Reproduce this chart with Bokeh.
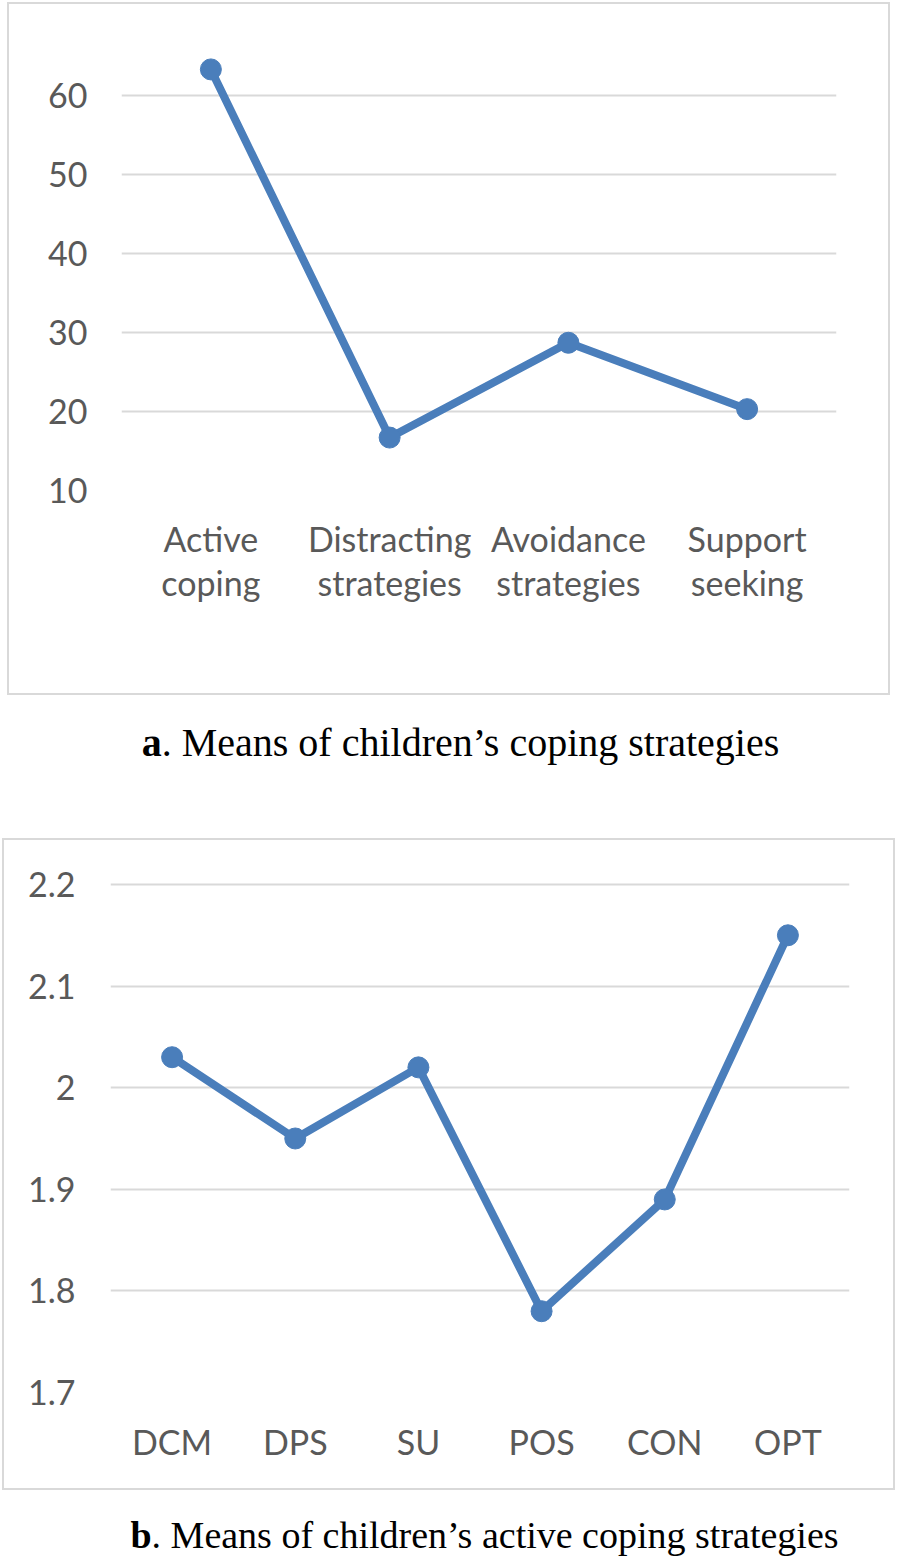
from bokeh.plotting import figure
from bokeh.models import FactorRange, Range1d, FixedTicker, Div, CustomJSTickFormatter
from bokeh.embed import file_html
from bokeh.resources import INLINE

# ---- data ----
cats_a = ["Active\ncoping", "Distracting\nstrategies", "Avoidance\nstrategies", "Support\nseeking"]
vals_a = [63.3, 16.7, 28.7, 20.3]
ticks_a = [10, 20, 30, 40, 50, 60]

cats_b = ["DCM", "DPS", "SU", "POS", "CON", "OPT"]
vals_b = [2.03, 1.95, 2.02, 1.78, 1.89, 2.15]
ticks_b = [1.7, 1.8, 1.9, 2.0, 2.1, 2.2]

caption_a = "<b>a</b>. Means of children’s coping strategies"
caption_b = "<b>b</b>. Means of children’s active coping strategies"

BLUE = "#4a7ebb"
GRID = "#d9d9d9"
LABEL = "#595959"
FONT = "Lato"


def frame_css(l, t, w, h, lw=2):
    g = "linear-gradient(%s,%s)" % (GRID, GRID)
    return {
        "background-image": ", ".join([g] * 4),
        "background-size": "%dpx %dpx, %dpx %dpx, %dpx %dpx, %dpx %dpx" % (lw, h, lw, h, w, lw, w, lw),
        "background-position": "%dpx %dpx, %dpx %dpx, %dpx %dpx, %dpx %dpx" % (
            l, t, l + w - lw, t, l, t, l, t + h - lw),
        "background-repeat": "no-repeat",
    }


def style(p, ticks, xstand, ystand, box):
    p.xgrid.grid_line_color = None
    p.ygrid.grid_line_color = GRID
    p.ygrid.grid_line_width = 2
    p.yaxis.ticker = FixedTicker(ticks=ticks)
    for ax in (p.xaxis[0], p.yaxis[0]):
        ax.axis_line_color = None
        ax.major_tick_line_color = None
        ax.minor_tick_line_color = None
        ax.major_tick_out = 0
        ax.major_tick_in = 0
        ax.minor_tick_out = 0
        ax.major_label_text_font = FONT
        ax.major_label_text_font_size = "34px"
        ax.major_label_text_color = LABEL
    p.xaxis.major_label_standoff = xstand
    p.yaxis.major_label_standoff = ystand
    p.xaxis.major_label_text_line_height = 1.08
    p.outline_line_color = None
    p.border_fill_color = None
    p.background_fill_color = None
    p.styles = frame_css(*box)


# ---- panel a ----
pa = figure(width=897, height=697, x_range=FactorRange(*cats_a, range_padding=0),
            y_range=Range1d(10, 66.96), output_backend="svg", toolbar_location=None,
            min_border_left=121, min_border_right=61, min_border_top=40, min_border_bottom=207)
style(pa, ticks_a, 27, 34, (7, 2, 883, 693))
pa.line(cats_a, vals_a, line_color=BLUE, line_width=8)
pa.scatter(cats_a, vals_a, marker="circle", size=21, fill_color=BLUE, line_color=BLUE)

div_a = Div(width=897, height=139, margin=0,
            text='<div style="width:897px;text-align:center;font-family:\'Liberation Serif\';'
                 'font-size:40px;line-height:40px;padding-top:26px;padding-left:24px;'
                 'box-sizing:border-box;color:#000">' + caption_a + '</div>')

# ---- panel b ----
pb = figure(width=897, height=656, x_range=FactorRange(*cats_b, range_padding=0),
            y_range=Range1d(1.7, 2.2236), output_backend="svg", toolbar_location=None,
            min_border_left=110, min_border_right=48, min_border_top=24, min_border_bottom=100)
style(pb, ticks_b, 28, 35, (2, 2, 893, 652))
pb.yaxis.formatter = CustomJSTickFormatter(code="return tick.toFixed(1).replace(/\\.0$/, '');")
pb.line(cats_b, vals_b, line_color=BLUE, line_width=8)
pb.scatter(cats_b, vals_b, marker="circle", size=21, fill_color=BLUE, line_color=BLUE)

div_b = Div(width=897, height=69, margin=0,
            text='<div style="width:897px;text-align:center;font-family:\'Liberation Serif\';'
                 'font-size:38px;line-height:40px;padding-top:23px;padding-left:72px;'
                 'box-sizing:border-box;color:#000">' + caption_b + '</div>')

open("out.html", "w").write(file_html([pa, div_a, pb, div_b], INLINE))
